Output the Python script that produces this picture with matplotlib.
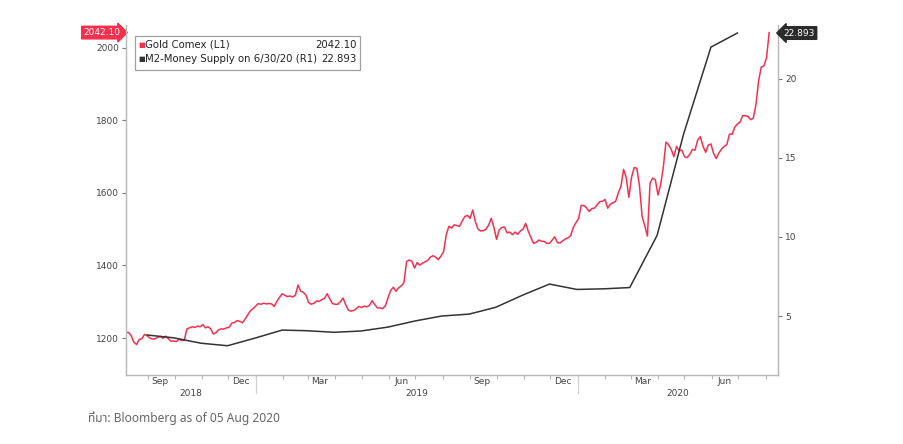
import matplotlib
matplotlib.use("Agg")
import matplotlib.pyplot as plt
import matplotlib.dates as mdates
import matplotlib.transforms as mtransforms
import pandas as pd

# gold comex, sampled every 3 days from 7 Aug 2018 to 5 Aug 2020
gold = [1216, 1215, 1206, 1188, 1182, 1196, 1198, 1210, 1206, 1200,
        1197, 1198, 1202, 1204, 1199, 1205, 1198, 1191, 1192, 1190,
        1197, 1193, 1194, 1225, 1228, 1231, 1229, 1233, 1231, 1237,
        1228, 1231, 1225, 1211, 1215, 1223, 1225, 1225, 1228, 1230,
        1241, 1243, 1248, 1246, 1242, 1252, 1264, 1275, 1281, 1288,
        1295, 1293, 1296, 1294, 1295, 1294, 1287, 1301, 1312, 1322,
        1318, 1314, 1316, 1313, 1318, 1346, 1329, 1326, 1318, 1298,
        1293, 1296, 1302, 1301, 1306, 1309, 1322, 1308, 1295, 1293,
        1293, 1300, 1310, 1292, 1277, 1274, 1276, 1281, 1287, 1284,
        1288, 1286, 1290, 1303, 1292, 1283, 1283, 1281, 1289, 1311,
        1331, 1340, 1329, 1338, 1344, 1352, 1411, 1415, 1412, 1393,
        1408, 1401, 1406, 1410, 1414, 1423, 1427, 1423, 1416, 1426,
        1438, 1485, 1508, 1503, 1512, 1510, 1508, 1522, 1535, 1538,
        1530, 1553, 1521, 1500, 1495, 1496, 1500, 1511, 1530, 1505,
        1472, 1498, 1505, 1506, 1490, 1492, 1485, 1492, 1486, 1495,
        1500, 1516, 1494, 1477, 1461, 1464, 1470, 1467, 1466, 1461,
        1461, 1470, 1479, 1463, 1462, 1468, 1473, 1476, 1482, 1505,
        1518, 1529, 1566, 1565, 1559, 1549, 1557, 1558, 1567, 1576,
        1577, 1582, 1558, 1569, 1573, 1577, 1600, 1618, 1665, 1642,
        1588, 1643, 1670, 1668, 1620, 1535, 1510, 1481, 1627, 1641,
        1636, 1594, 1623, 1670, 1740, 1733, 1720, 1700, 1728, 1716,
        1718, 1700, 1697, 1706, 1720, 1718, 1746, 1755, 1729, 1712,
        1732, 1735, 1709, 1695, 1710, 1721, 1728, 1733, 1762, 1762,
        1781, 1790, 1795, 1813, 1813, 1811, 1802, 1806, 1843, 1908,
        1947, 1950, 1972, 2042.10]
gold_dates = pd.date_range("2018-08-07", periods=len(gold), freq="3D")

# M2 money supply, month end values
m2 = [3.80, 3.62, 3.28, 3.12, 3.60, 4.11, 4.07, 3.97, 4.05, 4.30,
      4.68, 5.00, 5.12, 5.55, 6.33, 7.02, 6.68, 6.72, 6.80, 10.10,
      16.50, 22.00, 22.893]
m2_dates = pd.date_range("2018-08-31", periods=len(m2), freq="ME")

left_ticks = [1200, 1400, 1600, 1800, 2000]
right_ticks = [5, 10, 15, 20]
month_labels = {9: "Sep", 12: "Dec", 3: "Mar", 6: "Jun"}
years = ["2018", "2019", "2020"]

red = "#f5304f"
dark = "#333333"
axcol = "#b8b8b8"
txtcol = "#444444"

plt.rcParams["font.family"] = ["DejaVu Sans"]

fig = plt.figure(figsize=(9.04, 4.44), dpi=100)
ax = fig.add_axes([0.1394, 0.1554, 0.7212, 0.7883])
ax2 = ax.twinx()

ax.plot(gold_dates, gold, color=red, lw=1.1, zorder=3)
ax2.plot(m2_dates, m2, color=dark, lw=1.1, zorder=2)

xmin = pd.Timestamp("2018-08-07")
xmax = pd.Timestamp("2020-08-15")
ax.set_xlim(xmin, xmax)
ax.set_ylim(1098, 2063)
ax2.set_ylim(1.27, 23.4)

ax.set_yticks(left_ticks)
ax.set_yticklabels([str(t) for t in left_ticks])
ax2.set_yticks(right_ticks)
ax2.set_yticklabels([str(t) for t in right_ticks])
for a in (ax, ax2):
    a.tick_params(axis="y", labelsize=6.5, colors=txtcol, length=3, width=0.8, pad=2)
    for s in a.spines.values():
        s.set_color(axcol)
        s.set_linewidth(0.9)
    a.spines["top"].set_visible(False)
ax.tick_params(axis="y", color="#777777")
ax2.tick_params(axis="y", color="#777777")

# month labels in the middle of the month, month ticks at the start
mids = [d + pd.Timedelta(days=14) for d in pd.date_range("2018-08-01", "2020-08-01", freq="MS")
        if d.month in month_labels]
ax.set_xticks(mids)
ax.set_xticklabels([month_labels[d.month] for d in mids])
ax.xaxis.set_minor_locator(mdates.MonthLocator())
ax.tick_params(axis="x", which="major", length=0, labelsize=6.5, colors=txtcol, pad=1.5)
ax.tick_params(axis="x", which="minor", length=3, color=axcol, width=0.8)

# year labels with separators
trans = mtransforms.blended_transform_factory(ax.transData, ax.transAxes)
bounds = [xmin, pd.Timestamp("2019-01-01"), pd.Timestamp("2020-01-01"), xmax]
for i, y in enumerate(years):
    mid = bounds[i] + (bounds[i + 1] - bounds[i]) / 2
    ax.text(mid, -0.04, y, transform=trans, ha="center", va="top",
            fontsize=6.5, color=txtcol)
for b in bounds[1:3]:
    ax.plot([b, b], [0, -0.05], transform=trans, color="#d0d0d0", lw=0.9, clip_on=False)

# legend box
lg = plt.Rectangle((0.0138, 0.8714), 0.345, 0.0972, transform=ax.transAxes,
                   facecolor="white", edgecolor="#a0a0a0", lw=0.9, zorder=5)
ax.add_patch(lg)
rows = [("Gold Comex (L1)", "2042.10", red, 0.943),
        ("M2-Money Supply on 6/30/20 (R1)", "22.893", dark, 0.903)]
for name, val, c, yy in rows:
    ax.text(0.0195, yy, "\u25a0", transform=ax.transAxes, fontsize=5, color=c,
            va="center", zorder=6)
    ax.text(0.0285, yy, name, transform=ax.transAxes, fontsize=7.3, color="#222222",
            va="center", zorder=6)
    ax.text(0.3535, yy, val, transform=ax.transAxes, fontsize=7.3, color="#222222",
            va="center", ha="right", zorder=6)

# last value tags on the axes
ax.annotate("2042.10", xy=(0, gold[-1]), xycoords=("axes fraction", "data"),
            xytext=(-4, 0), textcoords="offset points", ha="right", va="center",
            fontsize=6.5, color="white", annotation_clip=False,
            bbox=dict(boxstyle="rarrow,pad=0.2", fc=red, ec=red))
ax2.annotate("22.893", xy=(1, m2[-1]), xycoords=("axes fraction", "data"),
             xytext=(4, 0), textcoords="offset points", ha="left", va="center",
             fontsize=6.5, color="white", annotation_clip=False,
             bbox=dict(boxstyle="larrow,pad=0.2", fc="#2b2b2b", ec="#2b2b2b"))

fig.text(0.097, 0.058, "ที่มา: Bloomberg as of 05 Aug 2020", fontsize=8.6,
         color="#666666", va="center",
         family=["Noto Sans Thai", "Noto Sans", "DejaVu Sans", "Liberation Sans"])

fig.savefig("out.png", dpi=100, facecolor="white")
